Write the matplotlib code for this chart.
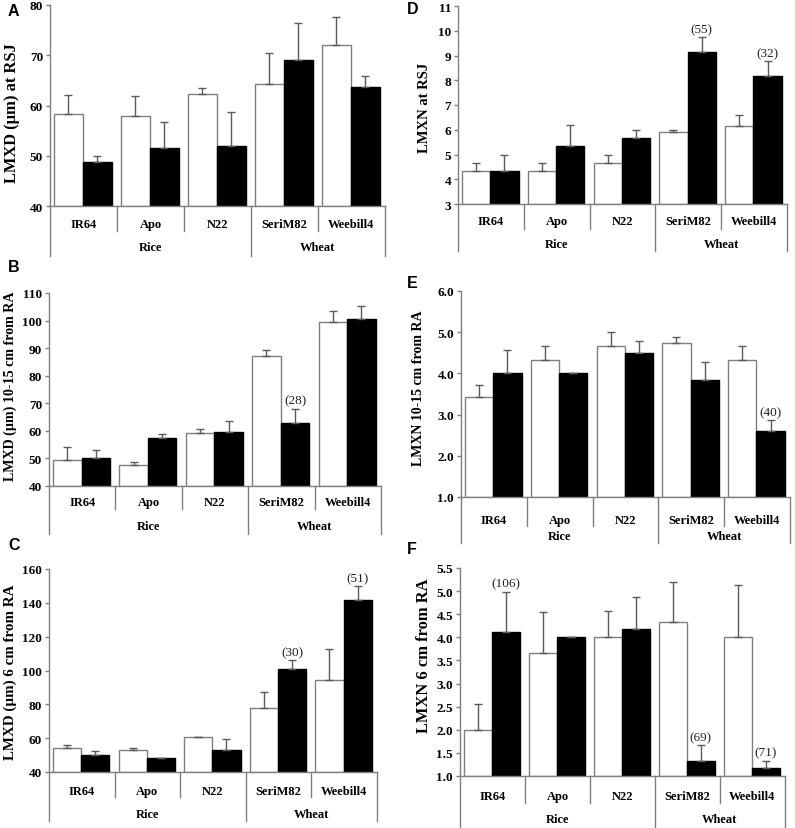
import matplotlib
matplotlib.use("Agg")
import matplotlib.pyplot as plt
import numpy as np
from matplotlib.ticker import FormatStrFormatter, MultipleLocator

W_PX, H_PX = 795, 829
DPI = 100

cultivars = ["IR64", "Apo", "N22", "SeriM82", "Weebill4"]
species = ["Rice", "Wheat"]

# Panel A: LMXD (um) at RSJ
a_white = [58.3, 57.9, 62.3, 64.2, 72.1]
a_white_err = [3.8, 3.9, 1.1, 6.2, 5.5]
a_black = [48.8, 51.5, 52.0, 69.0, 63.6]
a_black_err = [1.1, 5.2, 6.8, 7.5, 2.2]
a_notes = ["", "", "", "", ""]

# Panel B: LMXD (um) 10-15 cm from RA
b_white = [49.4, 47.6, 59.3, 87.1, 99.5]
b_white_err = [4.6, 1.1, 1.2, 2.2, 3.8]
b_black = [50.1, 57.5, 59.6, 62.7, 100.7]
b_black_err = [2.8, 1.3, 4.0, 5.3, 4.6]
b_notes = ["", "", "", "(28)", ""]

# Panel C: LMXD (um) 6 cm from RA
c_white = [54.0, 53.0, 60.5, 77.8, 94.2]
c_white_err = [2.0, 1.0, 0.2, 9.4, 18.5]
c_black = [50.0, 48.5, 53.0, 101.0, 141.7]
c_black_err = [2.5, 0.0, 6.4, 5.0, 8.0]
c_notes = ["", "", "", "(30)", "(51)"]

# Panel D: LMXN at RSJ
d_white = [4.33, 4.33, 4.67, 5.90, 6.17]
d_white_err = [0.33, 0.33, 0.33, 0.07, 0.43]
d_black = [4.33, 5.35, 5.67, 9.15, 8.17]
d_black_err = [0.67, 0.85, 0.30, 0.58, 0.60]
d_notes = ["", "", "", "(55)", "(32)"]

# Panel E: LMXN 10-15 cm from RA
e_white = [3.42, 4.33, 4.67, 4.75, 4.33]
e_white_err = [0.30, 0.33, 0.33, 0.13, 0.33]
e_black = [4.00, 4.00, 4.50, 3.84, 2.60]
e_black_err = [0.57, 0.0, 0.28, 0.43, 0.27]
e_notes = ["", "", "", "", "(40)"]

# Panel F: LMXN 6 cm from RA
f_white = [2.00, 3.67, 4.00, 4.33, 4.00]
f_white_err = [0.56, 0.87, 0.58, 0.86, 1.14]
f_black = [4.11, 4.00, 4.17, 1.33, 1.17]
f_black_err = [0.88, 0.0, 0.71, 0.33, 0.16]
f_notes = ["(106)", "", "", "(69)", "(71)"]

SERIF = ["Liberation Serif", "DejaVu Serif"]
SANS = ["Liberation Sans", "DejaVu Sans"]
GRAY = "#7f7f7f"
ERRC = "#5a5a5a"

fig = plt.figure(figsize=(W_PX / DPI, H_PX / DPI), dpi=DPI)
renderer = fig.canvas.get_renderer()

panels = [
    dict(letter="A", rect=(50, 385, 6, 207), ylim=(40, 80), step=10, fmt="%d",
         ylabel="LMXD (\u00b5m) at RSJ", data=(a_white, a_white_err, a_black, a_black_err, a_notes),
         offs=(18, 25, 41, 50), lpos=(8, 11), yl=(12, 113, 140)),
    dict(letter="B", rect=(49, 381, 294, 487), ylim=(40, 110), step=10, fmt="%d",
         ylabel="LMXD (\u00b5m) 10-15 cm from RA", data=(b_white, b_white_err, b_black, b_black_err, b_notes),
         offs=(16, 23, 40, 48), lpos=(8, 268), yl=(10, 386, 190)),
    dict(letter="C", rect=(49, 377, 570, 773), ylim=(40, 160), step=20, fmt="%d",
         ylabel="LMXD (\u00b5m) 6 cm from RA", data=(c_white, c_white_err, c_black, c_black_err, c_notes),
         offs=(19, 25, 42, 49), lpos=(8, 546), yl=(10, 672, 175)),
    dict(letter="D", rect=(458, 787, 7, 205), ylim=(3, 11), step=1, fmt="%d",
         ylabel="LMXN at RSJ", data=(d_white, d_white_err, d_black, d_black_err, d_notes),
         offs=(17, 25, 40, 47), lpos=(407, 10), yl=(425, 108, 90)),
    dict(letter="E", rect=(461, 790, 292, 498), ylim=(1, 6), step=1, fmt="%.1f",
         ylabel="LMXN 10-15 cm from RA", data=(e_white, e_white_err, e_black, e_black_err, e_notes),
         offs=(23, 29, 39, 46), lpos=(407, 283), yl=(419, 388, 155)),
    dict(letter="F", rect=(460, 785, 569, 777), ylim=(1, 5.5), step=0.5, fmt="%.1f",
         ylabel="LMXN 6 cm from RA", data=(f_white, f_white_err, f_black, f_black_err, f_notes),
         offs=(20, 27, 43, 52), lpos=(407, 549), yl=(424, 656, 155)),
]

bw = 0.43
for p in panels:
    l, r, t, b = p["rect"]
    ax = fig.add_axes([l / W_PX, 1 - b / H_PX, (r - l) / W_PX, (b - t) / H_PX])
    wv, we, bv, be, notes = p["data"]
    n = len(cultivars)
    x = np.arange(n) + 0.49
    ymin, ymax = p["ylim"]
    hw = [v - ymin for v in wv]
    hb = [v - ymin for v in bv]
    ax.bar(x - bw / 2, hw, bw, bottom=ymin, color="white", edgecolor=GRAY, linewidth=1.0, zorder=2)
    ax.bar(x + bw / 2, hb, bw, bottom=ymin, color="black", edgecolor="black", linewidth=1.0, zorder=2)
    ax.errorbar(x - bw / 2, wv, yerr=[np.zeros(n), we], fmt="none", ecolor=ERRC,
                elinewidth=1.0, capsize=3, capthick=1.0, zorder=3)
    ax.errorbar(x + bw / 2, bv, yerr=[np.zeros(n), be], fmt="none", ecolor=ERRC,
                elinewidth=1.0, capsize=3, capthick=1.0, zorder=3)
    for i, txt in enumerate(notes):
        if txt:
            ax.annotate(txt, (x[i] + bw / 2, bv[i] + be[i]), xytext=(0, 1.5),
                        textcoords="offset points", ha="center", va="bottom",
                        fontsize=9.5, family=SERIF, color="#222222")
    ax.set_xlim(0, n)
    ax.set_ylim(ymin, ymax)
    ax.yaxis.set_major_locator(MultipleLocator(p["step"]))
    ax.yaxis.set_major_formatter(FormatStrFormatter(p["fmt"]))
    ax.set_xticks([])
    for s in ("top", "right"):
        ax.spines[s].set_visible(False)
    for s in ("left", "bottom"):
        ax.spines[s].set_color(GRAY)
        ax.spines[s].set_linewidth(1.0)
    ax.tick_params(axis="y", length=3, width=1, color=GRAY, pad=2)
    for lab in ax.get_yticklabels():
        lab.set_family(SERIF)
        lab.set_fontweight("bold")
        lab.set_fontsize(9.5)
    ax.patch.set_alpha(0)

    axh = b - t
    cat_o, short_o, grp_o, long_o = p["offs"]
    for k in range(n + 1):
        depth = long_o if k in (0, 3, n) else short_o
        ax.plot([k, k], [0, -depth / axh], transform=ax.get_xaxis_transform(),
                color=GRAY, lw=1.0, clip_on=False)
    for i, c in enumerate(cultivars):
        ax.text(i + 0.5, -cat_o / axh, c, transform=ax.get_xaxis_transform(),
                ha="center", va="center", fontsize=9, fontweight="bold", family=SERIF)
    ax.text(1.5, -grp_o / axh, species[0], transform=ax.get_xaxis_transform(),
            ha="center", va="center", fontsize=9, fontweight="bold", family=SERIF)
    ax.text(4.0, -grp_o / axh, species[1], transform=ax.get_xaxis_transform(),
            ha="center", va="center", fontsize=9, fontweight="bold", family=SERIF)

    ylx, yly, ylen = p["yl"]
    tx = fig.text(ylx / W_PX, 1 - yly / H_PX, p["ylabel"], rotation=90,
                  ha="center", va="center", fontsize=10, fontweight="bold", family=SERIF)
    ext = tx.get_window_extent(renderer=renderer)
    tx.set_fontsize(10 * ylen / ext.height)
    fig.text(p["lpos"][0] / W_PX, 1 - p["lpos"][1] / H_PX, p["letter"],
             ha="left", va="center", fontsize=11.5, fontweight="bold", family=SANS)

fig.savefig("out.png", dpi=DPI)
